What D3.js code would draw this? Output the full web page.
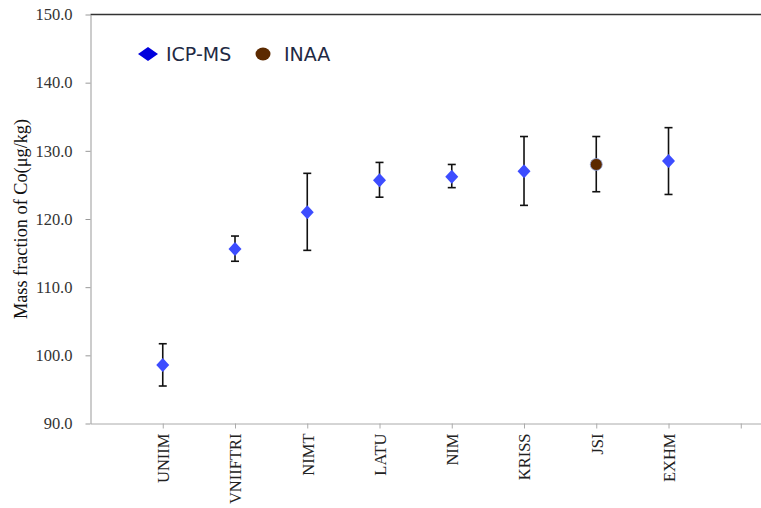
<!DOCTYPE html>
<html>
<head>
<meta charset="utf-8">
<script src="https://cdn.jsdelivr.net/npm/d3@7"></script>
<style>
  body { margin: 0; background: #fff; }
  svg { display: block; }
  .serif text, text.serif { font-family: "Liberation Serif", "Times New Roman", serif; }
</style>
</head>
<body>
<svg id="chart" width="761" height="508"></svg>
<script>
// lab results, mass fraction of Co in ug/kg
var labs    = ['UNIIM', 'VNIIFTRI', 'NIMT', 'LATU', 'NIM', 'KRISS', 'JSI', 'EXHM'];
var values  = [98.6, 115.6, 121.0, 125.7, 126.2, 127.0, 128.0, 128.5];
var upper   = [101.7, 117.5, 126.7, 128.3, 128.0, 132.1, 132.1, 133.4];
var lower   = [95.5, 113.8, 115.4, 123.2, 124.6, 122.0, 124.0, 123.6];
var methods = ['ICP-MS', 'ICP-MS', 'ICP-MS', 'ICP-MS', 'ICP-MS', 'ICP-MS', 'INAA', 'ICP-MS'];
var yTicks  = [90, 100, 110, 120, 130, 140, 150];

var svg = d3.select('#chart');
var plotL = 90.5, plotT = 14.5, plotB = 423.5, plotR = 761;

var x = d3.scaleLinear().domain([0, 9.28]).range([plotL, plotR]);
var y = d3.scaleLinear().domain([90, 150]).range([plotB, plotT]);

var data = labs.map(function(d, i) {
    return {lab: d, pos: i + 1, v: values[i], hi: upper[i], lo: lower[i], m: methods[i]};
});

// top border
svg.append('line')
    .attr('x1', plotL).attr('x2', plotR)
    .attr('y1', plotT).attr('y2', plotT)
    .attr('stroke', '#333').attr('stroke-width', 1.5);

// y axis
var yAxis = svg.append('g')
    .attr('class', 'serif')
    .attr('transform', 'translate(' + plotL + ',0)')
    .call(d3.axisLeft(y).tickValues(yTicks).tickSize(5).tickSizeOuter(0)
        .tickFormat(d3.format('.1f')));
yAxis.attr('font-size', 16.5);
yAxis.select('.domain').attr('stroke', '#999');
yAxis.selectAll('.tick line').attr('stroke', '#999');
yAxis.selectAll('.tick text')
    .attr('x', -18)
    .attr('fill', '#333');

// x axis, one tick per slot 1..9, last slot empty
var xAxis = svg.append('g')
    .attr('class', 'serif')
    .attr('transform', 'translate(0,' + plotB + ')')
    .call(d3.axisBottom(x).tickValues(d3.range(1, 10)).tickSize(5).tickSizeOuter(0)
        .tickFormat(function(d) { return labs[d - 1] || ''; }));
xAxis.attr('font-size', 16.5);
xAxis.select('.domain').attr('stroke', '#aaa');
xAxis.selectAll('.tick line').attr('stroke', '#aaa');
xAxis.selectAll('.tick text')
    .attr('transform', 'rotate(-90)')
    .attr('x', -10).attr('y', 0).attr('dy', '0.35em')
    .attr('text-anchor', 'end')
    .attr('fill', '#222');

// y title
svg.append('text')
    .attr('class', 'serif')
    .attr('transform', 'translate(27,219) rotate(-90)')
    .attr('text-anchor', 'middle')
    .attr('fill', '#111')
    .attr('font-size', 18.3)
    .text('Mass fraction of Co(μg/kg)');

// error bars
var bars = svg.append('g').attr('stroke', '#111').attr('stroke-width', 1.6);
bars.selectAll('.stem').data(data).enter().append('line')
    .attr('x1', function(d) { return x(d.pos); })
    .attr('x2', function(d) { return x(d.pos); })
    .attr('y1', function(d) { return y(d.hi); })
    .attr('y2', function(d) { return y(d.lo); });
bars.selectAll('.capHi').data(data).enter().append('line')
    .attr('x1', function(d) { return x(d.pos) - 4; })
    .attr('x2', function(d) { return x(d.pos) + 4; })
    .attr('y1', function(d) { return y(d.hi); })
    .attr('y2', function(d) { return y(d.hi); });
bars.selectAll('.capLo').data(data).enter().append('line')
    .attr('x1', function(d) { return x(d.pos) - 4; })
    .attr('x2', function(d) { return x(d.pos) + 4; })
    .attr('y1', function(d) { return y(d.lo); })
    .attr('y2', function(d) { return y(d.lo); });

// markers
var diamond = 'M0,-7L6.5,0L0,7L-6.5,0Z';
var marks = svg.append('g');
data.forEach(function(d) {
    if (d.m === 'INAA') {
        marks.append('circle')
            .attr('cx', x(d.pos)).attr('cy', y(d.v)).attr('r', 6)
            .attr('fill', '#5c2a00').attr('stroke', '#8fa6e0').attr('stroke-width', 0.8);
    } else {
        marks.append('path')
            .attr('d', diamond)
            .attr('transform', 'translate(' + x(d.pos) + ',' + y(d.v) + ')')
            .attr('fill', '#3d4dff');
    }
});

// legend
var sans = '"DejaVu Sans", Verdana, sans-serif';
var legend = svg.append('g').attr('transform', 'translate(0,54)');
legend.append('path').attr('d', 'M-10,0L0,-7L10,0L0,7Z')
    .attr('transform', 'translate(148,0)').attr('fill', '#0000dd');
legend.append('text').attr('x', 166).attr('y', 0).attr('dy', '0.36em')
    .attr('fill', '#1f2a44')
    .attr('font-family', sans).attr('font-size', 19)
    .text('ICP-MS');
legend.append('ellipse').attr('cx', 263).attr('cy', 0).attr('rx', 7.5).attr('ry', 6.5)
    .attr('fill', '#5c2a00');
legend.append('text').attr('x', 284).attr('y', 0).attr('dy', '0.36em')
    .attr('fill', '#1f2a44')
    .attr('font-family', sans).attr('font-size', 19)
    .text('INAA');
</script>
</body>
</html>
